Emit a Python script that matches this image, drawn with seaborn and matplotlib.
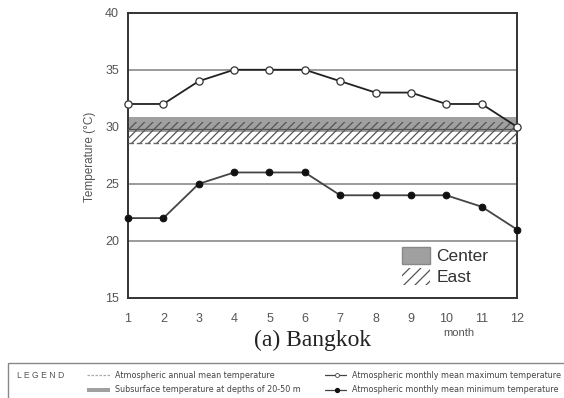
import numpy as np
import pandas as pd
import matplotlib
matplotlib.use("Agg")
import matplotlib.pyplot as plt
import seaborn as sns
from matplotlib.patches import Patch, Rectangle
from matplotlib.lines import Line2D
from matplotlib import font_manager

months = list(range(1, 13))
max_temp = [32, 32, 34, 35, 35, 35, 34, 33, 33, 32, 32, 30]
min_temp = [22, 22, 25, 26, 26, 26, 24, 24, 24, 24, 23, 21]
annual_mean = 28.6
center_band = (29.55, 30.9)
east_band = (28.6, 30.4)
center_line = 29.85
yticks = [15, 20, 25, 30, 35, 40]
legend_items = ["Atmospheric annual mean temperature",
                "Subsurface temperature at depths of 20-50 m",
                "Atmospheric monthly mean maximum temperature",
                "Atmospheric monthly mean minimum temperature"]

sns.set_theme(style="white")
plt.rcParams['font.family'] = ['DejaVu Sans']
plt.rcParams['hatch.linewidth'] = 0.9

names = {f.name for f in font_manager.fontManager.ttflist}
narrow = "Liberation Sans Narrow" if "Liberation Sans Narrow" in names else None
arial = "Liberation Sans" if "Liberation Sans" in names else "DejaVu Sans"
serif = "Liberation Serif" if "Liberation Serif" in names else "DejaVu Serif"

fig = plt.figure(figsize=(5.64, 3.98), dpi=100)
ax = fig.add_axes([0.2270, 0.2513, 0.6897, 0.7168])

df = pd.DataFrame({"month": months, "max": max_temp, "min": min_temp})

for y in [20, 25, 35]:
    ax.axhline(y, color="#808080", lw=1.1, zorder=1)

ax.axhspan(center_band[0], center_band[1], facecolor="#a0a0a0", edgecolor="none", zorder=2)
ax.axhspan(east_band[0], east_band[1], facecolor="none", edgecolor="#555555", hatch="////",
           lw=0, zorder=3)
ax.axhline(center_line, color="#555555", lw=0.9, zorder=3)
ax.axhline(annual_mean, color="#666666", lw=1.0, ls=(0, (4, 2)), zorder=3)

sns.lineplot(data=df, x="month", y="max", ax=ax, color="#222222", lw=1.3,
             marker="o", markersize=5.2, markerfacecolor="white",
             markeredgecolor="#333333", markeredgewidth=0.9, zorder=5, clip_on=False)
sns.lineplot(data=df, x="month", y="min", ax=ax, color="#444444", lw=1.3,
             marker="o", markersize=4.8, markerfacecolor="#111111",
             markeredgecolor="#111111", zorder=5, clip_on=False)

ax.set_xlim(1, 12)
ax.set_ylim(15, 40)
ax.set_xticks(months)
ax.set_yticks(yticks)
ax.tick_params(axis="x", direction="in", length=3, width=1, colors="#333333",
               labelcolor="#555555", labelsize=9, pad=10.5)
ax.tick_params(axis="y", length=0, labelcolor="#555555", labelsize=9, pad=6.5)
for lab in ax.get_xticklabels() + ax.get_yticklabels():
    lab.set_family(arial)
for s in ax.spines.values():
    s.set_color("#333333")
    s.set_linewidth(1.4)
ax.set_xlabel("")
ax.set_ylabel("")
fig.text(90 / 564, 1 - 157 / 398, "Temperature (°C)", rotation=90, fontsize=8.5, color="#555555",
         ha="center", va="center", family=arial)

handles = [Patch(facecolor="#a0a0a0", edgecolor="#888888", label="Center"),
           Patch(facecolor="none", edgecolor="#555555", hatch="///", lw=0, label="East")]
ax.legend(handles=handles, loc="upper left", bbox_to_anchor=(402 / 564, 1 - 247 / 398),
          bbox_transform=fig.transFigure, frameon=False,
          handlelength=1.62, handleheight=1.14, labelspacing=0.18, handletextpad=0.36,
          borderpad=0, borderaxespad=0, labelcolor="#333333",
          prop={"family": arial, "size": 12.5})

fig.text(459 / 564, 1 - 333 / 398, "month", fontsize=8, color="#555555", ha="center",
         va="center", family=arial)
fig.text(313 / 564, 1 - 340 / 398, "(a) Bangkok", fontsize=17, family=serif, color="#222222",
         ha="center", va="center")

# bottom legend box
fig.patches.append(Rectangle((8 / 564, -0.05), 1.1, 0.05 + 1 - 363 / 398,
                             transform=fig.transFigure, fill=False, edgecolor="#888888", lw=1.0))
if narrow:
    lfam, fs = narrow, 7.4
else:
    lfam, fs = "DejaVu Sans", 5.8
tc = "#444444"
r1 = 1 - 375 / 398
r2 = 1 - 390 / 398
fig.text(17 / 564, r1, "L E G E N D", fontsize=6.2, color="#555555", va="center", family=arial)
fig.lines.append(Line2D([87 / 564, 110 / 564], [r1, r1], transform=fig.transFigure,
                        color="#aaaaaa", lw=0.9, ls=(0, (2, 1.2))))
fig.text(115 / 564, r1, legend_items[0], fontsize=fs, color=tc, va="center", family=lfam)
fig.patches.append(Rectangle((87 / 564, r2 - 0.005), 23 / 564, 0.01, transform=fig.transFigure,
                             facecolor="#a0a0a0", edgecolor="none"))
fig.text(115 / 564, r2, legend_items[1], fontsize=fs, color=tc, va="center", family=lfam)
fig.lines.append(Line2D([325 / 564, 346 / 564], [r1, r1], transform=fig.transFigure,
                        color="#444444", lw=0.9))
fig.lines.append(Line2D([337 / 564], [r1], transform=fig.transFigure, marker="o", markersize=2.8,
                        markerfacecolor="white", markeredgecolor="#444444", markeredgewidth=0.6))
fig.text(352 / 564, r1, legend_items[2], fontsize=fs, color=tc, va="center", family=lfam)
fig.lines.append(Line2D([325 / 564, 346 / 564], [r2, r2], transform=fig.transFigure,
                        color="#444444", lw=0.9))
fig.lines.append(Line2D([337 / 564], [r2], transform=fig.transFigure, marker="o", markersize=2.8,
                        markerfacecolor="#111111", markeredgecolor="#111111"))
fig.text(352 / 564, r2, legend_items[3], fontsize=fs, color=tc, va="center", family=lfam)

fig.savefig("out.png", dpi=100)
